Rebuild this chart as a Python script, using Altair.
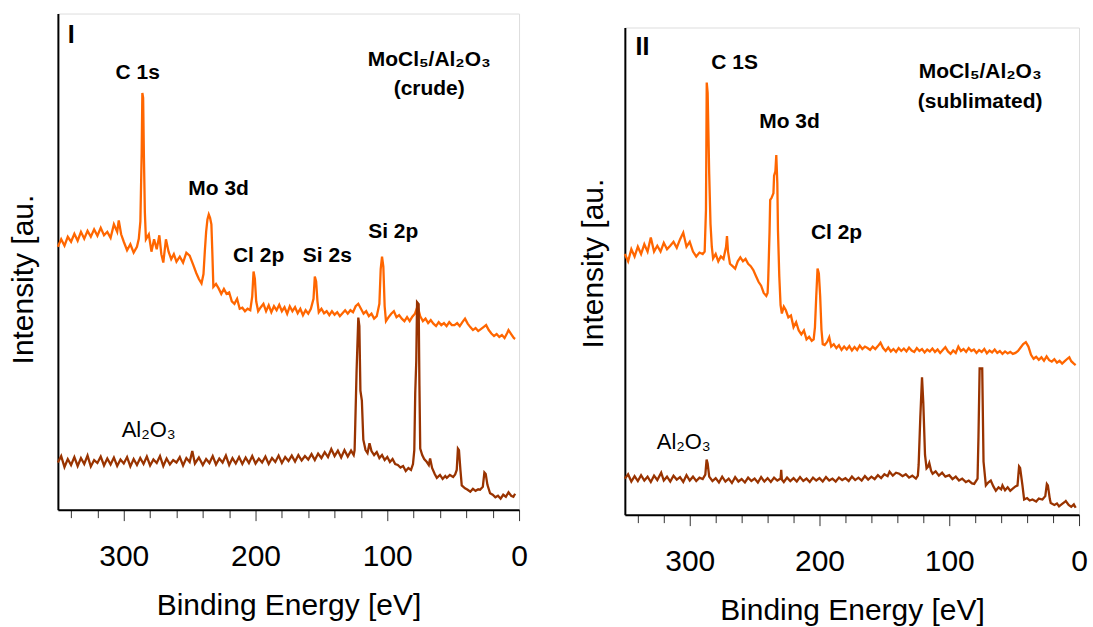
import altair as alt
import pandas as pd

# ---------------- data (binding energy [eV], intensity [a.u.]) ----------------
crude_I = [
    (350, 53.0), (347.5, 54.5), (345, 53.2), (342.5, 55.0), (340, 54.0), (337.5, 55.6), (335, 54.2),
    (332.5, 56.0), (330, 54.6), (327.5, 56.2), (325, 55.0), (322.5, 56.5), (320, 55.2), (317.5, 56.8),
    (315, 55.3), (312.5, 56.0), (310, 54.8), (307.5, 57.5), (305, 56.0), (303.8, 58.3), (302, 55.5),
    (300, 54.0), (297.5, 52.3), (295, 53.5), (292.5, 51.8), (290, 53.0), (288.6, 54.6), (287.4, 58.1),
    (286.4, 72.0), (285.9, 84.0), (285.3, 83.0), (284.7, 71.0), (284.0, 60.0), (283.2, 54.5), (281, 55.5),
    (279, 52.0), (277, 54.5), (275, 52.5), (273, 55.3), (271.5, 51.5), (270, 49.8), (268, 54.5),
    (266, 52.0), (264, 50.5), (262, 51.5), (260, 50.0), (257.5, 51.0), (255, 49.8), (252.5, 51.8),
    (250, 51.2), (247.5, 49.5), (245, 47.7), (243, 46.5), (241, 45.6), (239.5, 47.5), (238.5, 52.0),
    (237.5, 56.0), (236.5, 58.5), (235.5, 59.5), (234.5, 58.8), (233.5, 57.5), (232.8, 52.0), (232, 44.9),
    (230, 45.5), (228, 44.6), (226, 43.5), (224, 44.5), (222, 43.5), (220, 43.8), (218, 42.0),
    (216, 41.5), (214, 42.5), (212, 40.5), (210, 40.7), (208, 40.0), (206, 40.5), (204, 40.2),
    (202.5, 43.0), (201.5, 48.0), (200.5, 46.5), (199.5, 42.0), (198, 40.0), (196, 40.8), (194, 41.5),
    (192, 40.0), (190, 41.2), (188, 39.8), (186, 41.0), (184, 40.2), (182, 41.3), (180, 40.0),
    (178, 40.8), (176, 39.5), (174, 41.0), (172, 40.0), (170, 40.8), (168, 39.6), (166, 40.5),
    (164, 39.2), (162, 40.2), (160, 39.5), (158, 40.5), (156, 42.5), (155, 47.0), (154, 46.0),
    (153, 42.0), (152, 39.8), (150, 40.5), (148, 39.6), (146, 40.0), (144, 39.2), (142, 40.0),
    (140, 39.3), (138, 39.8), (136, 39.0), (134, 39.6), (132, 40.2), (130, 39.5), (128, 40.2),
    (126, 39.8), (124, 41.0), (122, 41.5), (120, 40.5), (118, 39.5), (116, 40.0), (114, 39.0),
    (112, 39.5), (110, 38.5), (108, 39.0), (106, 41.5), (105, 48.5), (104, 51.0), (103, 49.0),
    (102, 41.0), (101, 38.0), (99, 38.8), (97, 39.5), (95, 40.0), (93, 38.8), (91, 39.2),
    (89, 38.5), (87, 38.0), (85, 38.8), (83, 38.0), (81, 38.9), (79, 39.5), (77, 41.0),
    (75, 39.0), (73, 38.0), (71, 38.5), (69, 37.6), (67, 38.2), (65, 37.5), (63, 37.0),
    (61, 37.8), (59, 37.2), (57, 37.6), (55, 37.0), (53, 37.8), (51, 37.2), (49, 37.2),
    (47, 37.6), (45, 37.0), (43, 37.8), (41, 38.5), (39, 37.5), (37, 36.8), (35, 36.2),
    (33, 36.6), (31, 36.0), (29, 36.4), (27, 36.8), (25, 37.2), (23, 36.2), (21, 35.5),
    (19, 35.0), (17, 35.4), (15, 34.8), (13, 35.2), (11, 34.6), (9, 35.6), (8, 36.2),
    (6, 35.4), (4, 34.6), (3, 34.4),
]

alumina_I = [
    (350, 9.5), (347.5, 10.8), (345, 8.6), (342.5, 10.2), (340, 9.0), (337.5, 10.6), (335, 8.8),
    (332.5, 10.4), (330, 9.2), (327.5, 10.9), (325, 8.7), (322.5, 10.0), (320, 9.4), (317.5, 10.7),
    (315, 8.9), (312.5, 10.3), (310, 9.1), (307.5, 10.5), (305, 8.8), (302.5, 10.1), (300, 9.3),
    (297.5, 10.6), (295, 8.7), (292.5, 10.2), (290, 9.0), (287.5, 10.4), (285, 9.2), (282.5, 10.7),
    (280, 8.9), (277.5, 10.1), (275, 9.4), (272.5, 10.8), (270, 8.8), (267.5, 10.3), (265, 9.1),
    (262.5, 10.0), (260, 9.5), (257.5, 10.6), (255, 8.9), (252.5, 10.4), (250, 9.6), (248, 11.8),
    (246, 9.3), (243, 10.5), (240, 9.0), (237.5, 10.2), (235, 9.4), (232.5, 10.8), (230, 9.1),
    (227.5, 10.3), (225, 9.5), (222.5, 10.9), (220, 9.0), (217.5, 10.4), (215, 9.3), (212.5, 10.6),
    (210, 9.2), (207.5, 10.5), (205, 9.4), (202.5, 10.8), (200, 9.3), (197.5, 10.3), (195, 9.5),
    (192.5, 10.7), (190, 9.2), (187.5, 10.4), (185, 9.6), (182.5, 10.9), (180, 9.4), (177.5, 10.6),
    (175, 9.8), (172.5, 10.9), (170, 9.7), (167.5, 11.0), (165, 9.9), (162.5, 10.8), (160, 10.1),
    (157.5, 11.2), (155, 10.0), (152.5, 11.3), (150, 10.4), (147.5, 11.6), (145, 10.6), (142.5, 12.2),
    (140, 10.8), (137.5, 11.9), (135, 10.5), (132.5, 12.0), (130, 10.7), (127.5, 11.9), (125.5, 11.0),
    (124.8, 12.0), (124.3, 17.2), (123.3, 28.0), (122.0, 38.7), (121.2, 37.0), (120.4, 24.0),
    (119.3, 22.0), (118.2, 14.1), (116.5, 12.0), (115, 11.4), (113.5, 13.4), (112, 11.8), (110, 11.0),
    (108, 11.6), (106, 10.4), (104, 11.0), (102, 10.0), (100, 10.6), (98, 9.6), (96, 10.2),
    (94, 9.2), (92, 9.0), (90, 8.5), (88, 8.8), (86, 7.8), (84, 8.4), (82, 8.0), (80.5, 9.2),
    (79.5, 12.0), (78.8, 23.4), (78.0, 30.0), (77.4, 41.8), (76.2, 41.4), (75.6, 25.0), (75, 12.3),
    (73.5, 11.0), (72, 10.2), (70, 9.6), (68.5, 9.0), (67.5, 10.3), (66, 8.4), (64, 7.2),
    (62.4, 6.4), (60, 7.0), (58, 6.2), (56, 6.8), (54.8, 6.4), (52.5, 7.0), (50, 6.6), (48.5, 7.1),
    (47.3, 8.0), (46.4, 12.3), (45.6, 12.0), (44.5, 8.0), (43.5, 4.9), (41, 4.3), (39, 4.0),
    (37, 3.6), (35, 4.2), (33, 3.8), (31, 4.1), (29.6, 4.0), (27.5, 4.6), (26.3, 7.5), (25.3, 7.2),
    (24, 5.0), (22, 3.3), (20, 3.0), (18, 2.5), (16, 2.8), (14, 2.2), (12, 3.0), (10, 2.6),
    (8, 3.5), (6, 2.8), (4.3, 2.6), (3, 3.2),
]

sublimated_II = [
    (350, 53.5), (347.5, 52.0), (345, 54.5), (342.5, 53.0), (340, 55.0), (337.5, 53.5), (335, 55.5),
    (332.5, 54.0), (330, 56.9), (327.5, 54.0), (325, 55.2), (322.5, 54.0), (320, 55.8), (317.5, 54.5),
    (315, 55.2), (312.5, 56.0), (310, 54.8), (307.5, 56.5), (305, 57.9), (302.5, 55.0), (300, 56.0),
    (297.5, 54.0), (295, 53.0), (292.5, 53.8), (290, 53.5), (288.5, 54.0), (287.5, 62.5), (286.9, 88.7),
    (286.2, 86.6), (285, 70.0), (284, 59.7), (283, 55.0), (282, 52.6), (280, 53.5), (278, 52.0),
    (276, 53.0), (274, 52.5), (272, 55.0), (271.3, 57.2), (270.5, 54.0), (269, 51.5), (267, 51.0),
    (265, 50.5), (263, 52.0), (261, 52.8), (259, 52.0), (257, 52.5), (255, 51.5), (253, 51.0),
    (251, 50.2), (249, 49.0), (247, 47.8), (245, 47.0), (243, 45.5), (241, 44.9), (240, 45.5),
    (239.5, 48.4), (238.5, 58.0), (238, 64.6), (237, 65.0), (236.4, 65.4), (235.5, 66.0), (235, 69.6),
    (234, 70.5), (233.3, 73.8), (232.5, 68.0), (232, 58.3), (231, 49.0), (230, 43.0), (229, 41.3),
    (227.5, 42.7), (226, 42.0), (224, 40.5), (222, 40.9), (220, 38.5), (218, 39.5), (216, 37.8),
    (214, 37.0), (212, 37.8), (210, 36.0), (208, 36.5), (206, 35.7), (204.5, 36.0), (203.5, 38.5),
    (202.5, 44.9), (201.5, 50.5), (200.5, 49.5), (199.5, 44.9), (198.5, 38.0), (197.5, 35.0),
    (196, 34.8), (194, 35.5), (192.5, 36.4), (191, 34.5), (189, 35.0), (187, 34.2), (185, 34.8),
    (183, 33.8), (181, 34.5), (179, 33.9), (177, 34.6), (175, 33.7), (173, 34.4), (171, 33.8),
    (169, 34.7), (167, 34.0), (165, 34.5), (163, 34.2), (161, 33.8), (159, 34.5), (157, 34.0),
    (155, 34.6), (153, 35.3), (151, 34.2), (149, 33.6), (147, 34.3), (145, 33.5), (143, 34.0),
    (141, 33.4), (139, 34.2), (137, 33.6), (135, 34.1), (133, 33.5), (131, 34.3), (129, 33.7),
    (127, 33.4), (125, 34.2), (123, 33.6), (121, 34.0), (119, 33.3), (117, 33.9), (115, 33.5),
    (113, 34.1), (111, 33.4), (109, 33.9), (107, 33.2), (105, 33.8), (103, 34.4), (101, 33.5),
    (99, 33.0), (97, 33.7), (95, 33.2), (93, 34.5), (91, 33.6), (89, 34.0), (87, 33.4),
    (85, 34.2), (83, 33.6), (81, 33.9), (79, 33.2), (77, 33.8), (75, 33.4), (73, 34.0),
    (71, 33.1), (69, 33.7), (67, 33.3), (65, 33.9), (63, 33.2), (61, 33.6), (59, 33.0),
    (57, 33.5), (55, 33.1), (53, 33.4), (51, 33.0), (49, 33.2), (47, 33.6), (45, 34.3),
    (43, 35.0), (41, 35.4), (39, 34.5), (37, 32.8), (35, 32.0), (33, 32.4), (31, 31.8),
    (29, 32.3), (27, 31.6), (25, 32.5), (23, 31.7), (21, 31.4), (19, 31.9), (17, 31.2),
    (15, 31.6), (13, 31.0), (11, 31.5), (9, 32.0), (7.5, 32.3), (6, 31.5), (4, 31.0), (2.6, 30.7),
]

alumina_II = [
    (350, 7.4), (347.5, 8.3), (345, 6.8), (342.5, 7.9), (340, 6.9), (337.5, 8.1), (335, 7.0),
    (332.5, 7.8), (330, 6.7), (327.5, 8.0), (325, 7.1), (322, 8.6), (320, 7.0), (317.5, 7.8),
    (315, 6.8), (312.5, 8.0), (310, 7.2), (307.5, 7.7), (305, 6.7), (302.5, 8.1), (300, 7.0),
    (297.5, 7.8), (295, 6.9), (292.5, 7.6), (290, 7.3), (288, 8.2), (287, 11.3), (286.2, 10.5),
    (285, 7.8), (282.5, 6.9), (280, 7.5), (277.5, 6.6), (275, 7.8), (272.5, 6.8), (270, 7.4),
    (267.5, 6.5), (265, 7.7), (262.5, 6.8), (260, 7.3), (257.5, 6.6), (255, 7.6), (252.5, 6.9),
    (250, 7.4), (247.5, 6.6), (245, 7.7), (242.5, 6.8), (240, 7.5), (237.5, 6.7), (235, 7.6),
    (232.5, 7.0), (230, 7.4), (229.5, 9.2), (229, 7.2), (227.5, 6.7), (225, 7.6), (222.5, 6.9),
    (220, 7.5), (217.5, 6.8), (215, 7.7), (212.5, 6.9), (210, 7.4), (207.5, 6.7), (205, 7.6),
    (202.5, 7.0), (200, 7.5), (197.5, 6.8), (195, 7.7), (192.5, 7.0), (190, 7.4), (187.5, 6.8),
    (185, 7.6), (182.5, 7.1), (180, 7.5), (177.5, 6.9), (175, 7.8), (172.5, 7.1), (170, 7.6),
    (167.5, 7.0), (165, 7.9), (162.5, 7.2), (160, 7.8), (157.5, 7.3), (155, 8.1), (152.5, 7.5),
    (150, 8.3), (147.5, 7.9), (146, 8.8), (143.5, 8.0), (141, 8.6), (138.5, 8.4), (136, 7.9),
    (133.5, 8.3), (131, 7.6), (128.5, 8.0), (125.7, 7.4), (124.2, 8.0), (123.6, 10.2), (122.3, 20.1),
    (121.0, 28.2), (120.0, 22.9), (118.7, 12.3), (117.5, 9.5), (116.5, 9.8), (115.4, 10.6), (114, 9.0),
    (112.8, 8.4), (110.5, 8.9), (108, 8.0), (105.5, 8.6), (103, 7.8), (100, 8.1), (97.5, 7.3),
    (95, 7.8), (92.5, 7.0), (90, 7.4), (87.2, 6.7), (85, 7.0), (82.5, 6.4), (80.8, 6.3), (78.2, 7.4),
    (77.5, 15.9), (76.6, 30.0), (74.6, 30.0), (73.6, 10.9), (71.8, 6.0), (70, 6.6), (68, 7.0),
    (66, 5.8), (64.1, 4.9), (62, 5.6), (60, 5.2), (59, 6.0), (57, 5.0), (55, 5.6), (53, 4.9),
    (51.3, 5.3), (49, 5.8), (47.4, 6.0), (46.2, 9.9), (45.4, 9.6), (43.6, 6.0), (42.3, 3.1),
    (40, 3.4), (38, 2.9), (35.9, 3.1), (33, 2.7), (31, 3.3), (28.2, 3.1), (26, 3.8), (24.8, 6.3),
    (24, 6.0), (22.5, 3.2), (21.8, 2.4), (19, 2.0), (17, 2.3), (15.4, 1.7), (13, 2.2), (11, 2.6),
    (10.2, 2.8), (8, 2.0), (6, 1.6), (4, 2.1), (2.6, 1.4),
]

# annotations (text, energy, intensity)
peaks_I_text = ["C 1s", "Mo 3d", "Cl 2p", "Si 2s", "Si 2p", "MoCl₅/Al₂O₃", "(crude)"]
peaks_I_e = [289.4, 228.0, 197.7, 145.5, 95.5, 68.2, 68.2]
peaks_I_i = [88.1, 64.6, 51.1, 51.1, 55.9, 90.6, 84.7]

peaks_II_text = ["C 1S", "Mo 3d", "Cl 2p", "MoCl₅/Al₂O₃", "(sublimated)"]
peaks_II_e = [265.4, 223.1, 186.9, 76.2, 76.2]
peaks_II_i = [92.8, 80.7, 57.8, 90.8, 84.8]

panel_names = ["I", "II"]
panel_name_e = [339.8, 336.5]
panel_name_i = [95.6, 95.9]

ref_label = "Al₂O₃"
ref_label_e = [281.1, 304.6]
ref_label_i = [16.1, 15.0]

ORANGE = "#FF6600"
BROWN = "#993300"
FONT = "Liberation Sans"


def lines_frame(sample, reference):
    rows = [{"energy": e, "intensity": v, "series": "sample"} for e, v in sample]
    rows += [{"energy": e, "intensity": v, "series": "Al2O3"} for e, v in reference]
    return pd.DataFrame(rows)


def panel(sample, reference, txt, te, ti, idx, width, height, title_pad, title_y):
    xs = alt.Scale(domain=[0, 350], reverse=True, nice=False, zero=False)
    ys = alt.Scale(domain=[0, 100], nice=False, zero=False)
    x_axis = alt.Axis(
        values=list(range(0, 341, 20)),
        labelExpr="datum.value % 100 === 0 ? datum.label : ''",
        tickSize={"condition": {"test": "datum.value % 100 === 0", "value": 11}, "value": 8},
        tickColor="#333333", tickWidth=1,
        labelFontSize=30, labelPadding=21, labelOverlap=False, labelFlush=False,
        labelFont=FONT, labelFontWeight="normal", labelColor="black",
        title="Binding Energy [eV]", titleFontSize=30, titlePadding=19,
        titleFont=FONT, titleFontWeight="normal", titleColor="black",
        domainColor="black", domainWidth=2, grid=False,
    )
    y_axis = alt.Axis(
        labels=False, ticks=False, grid=False, minExtent=0,
        title="Intensity [au.", titleFontSize=30, titlePadding=title_pad, titleY=title_y,
        titleFont=FONT, titleFontWeight="normal", titleColor="black",
        domainColor="black", domainWidth=2,
    )
    X = alt.X("energy:Q", scale=xs, axis=x_axis)
    Y = alt.Y("intensity:Q", scale=ys, axis=y_axis)
    lines = alt.Chart(lines_frame(sample, reference)).mark_line(strokeWidth=2.3).encode(
        x=X, y=Y,
        color=alt.Color("series:N", scale=alt.Scale(domain=["sample", "Al2O3"], range=[ORANGE, BROWN]), legend=None),
    )
    bold = alt.Chart(pd.DataFrame({"label": txt, "energy": te, "intensity": ti})).mark_text(
        font=FONT, fontWeight="bold", fontSize=21, color="black"
    ).encode(x=X, y=Y, text="label:N")
    name = alt.Chart(pd.DataFrame({"label": [panel_names[idx]], "energy": [panel_name_e[idx]],
                                   "intensity": [panel_name_i[idx]]})).mark_text(
        font=FONT, fontWeight="bold", fontSize=25, color="black"
    ).encode(x=X, y=Y, text="label:N")
    ref = alt.Chart(pd.DataFrame({"label": [ref_label], "energy": [ref_label_e[idx]],
                                  "intensity": [ref_label_i[idx]]})).mark_text(
        font=FONT, fontSize=22, color="black"
    ).encode(x=X, y=Y, text="label:N")
    return alt.layer(lines, bold, name, ref).properties(width=width, height=height)


p1 = panel(crude_I, alumina_I, peaks_I_text, peaks_I_e, peaks_I_i, 0, 462, 497, 19, 266)
p2 = panel(sublimated_II, alumina_II, peaks_II_text, peaks_II_e, peaks_II_i, 1, 455, 488, 16, 236)

# invisible spacer that lowers panel II a little below panel I
spacer = alt.Chart(pd.DataFrame({"v": [0]})).mark_point(opacity=0).properties(
    width=455, height=12, view=alt.ViewBackground(stroke="transparent")
)
right = alt.vconcat(spacer, p2, spacing=0)

chart = alt.hconcat(p1, right, spacing=50).properties(
    padding={"left": 8, "top": 12, "right": 5, "bottom": 5}
).configure_view(stroke="#808080", strokeWidth=1).configure(background="white")

chart.save("out.html", embed_options={"renderer": "svg", "actions": False})
